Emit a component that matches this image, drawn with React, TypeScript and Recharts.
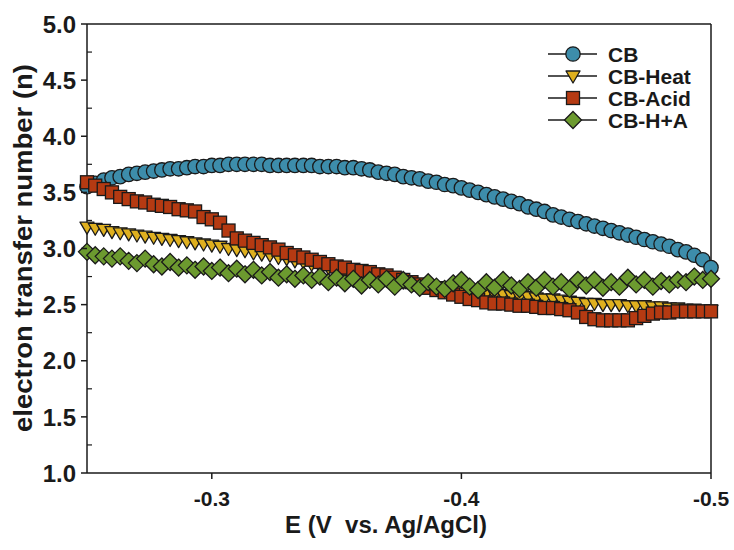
import React from 'react';
import { LineChart, Line, XAxis, YAxis, Legend, ReferenceLine, Label } from 'recharts';

// Potential E (V vs. Ag/AgCl)
const E = [
  -0.25, -0.2533, -0.2567, -0.26, -0.2633, -0.2667, -0.27, -0.2733, -0.2767, -0.28,
  -0.2833, -0.2867, -0.29, -0.2933, -0.2967, -0.3, -0.3033, -0.3067, -0.31, -0.3133,
  -0.3167, -0.32, -0.3233, -0.3267, -0.33, -0.3333, -0.3367, -0.34, -0.3433, -0.3467,
  -0.35, -0.3533, -0.3567, -0.36, -0.3633, -0.3667, -0.37, -0.3733, -0.3767, -0.38,
  -0.3833, -0.3867, -0.39, -0.3933, -0.3967, -0.4, -0.4033, -0.4067, -0.41, -0.4133,
  -0.4167, -0.42, -0.4233, -0.4267, -0.43, -0.4333, -0.4367, -0.44, -0.4433, -0.4467,
  -0.45, -0.4533, -0.4567, -0.46, -0.4633, -0.4667, -0.47, -0.4733, -0.4767, -0.48,
  -0.4833, -0.4867, -0.49, -0.4933, -0.4967, -0.5,
];

const CB = [
  3.55, 3.58, 3.61, 3.63, 3.64, 3.66, 3.67, 3.68, 3.69, 3.70,
  3.71, 3.71, 3.72, 3.73, 3.73, 3.74, 3.74, 3.75, 3.75, 3.75,
  3.75, 3.75, 3.74, 3.74, 3.74, 3.74, 3.74, 3.74, 3.73, 3.73,
  3.73, 3.72, 3.72, 3.71, 3.70, 3.68, 3.67, 3.66, 3.64, 3.63,
  3.62, 3.60, 3.59, 3.57, 3.56, 3.54, 3.52, 3.50, 3.48, 3.46,
  3.44, 3.42, 3.40, 3.37, 3.35, 3.33, 3.30, 3.28, 3.26, 3.24,
  3.22, 3.20, 3.18, 3.16, 3.14, 3.12, 3.10, 3.08, 3.06, 3.04,
  3.02, 2.99, 2.97, 2.94, 2.90, 2.83,
];

const CB_HEAT = [
  3.19, 3.18, 3.17, 3.15, 3.14, 3.13, 3.12, 3.11, 3.10, 3.09,
  3.08, 3.07, 3.06, 3.05, 3.04, 3.03, 3.02, 3.00, 2.99, 2.98,
  2.96, 2.95, 2.94, 2.92, 2.91, 2.89, 2.88, 2.86, 2.84, 2.83,
  2.81, 2.80, 2.78, 2.77, 2.76, 2.74, 2.73, 2.72, 2.70, 2.69,
  2.68, 2.67, 2.66, 2.65, 2.64, 2.63, 2.62, 2.61, 2.60, 2.59,
  2.59, 2.58, 2.57, 2.57, 2.56, 2.55, 2.55, 2.54, 2.53, 2.52,
  2.51, 2.51, 2.50, 2.50, 2.50, 2.49, 2.49, 2.49, 2.48, 2.48,
  2.47, 2.47, 2.46, 2.46, 2.45, 2.45,
];

const CB_ACID = [
  3.59, 3.56, 3.53, 3.50, 3.46, 3.44, 3.42, 3.41, 3.39, 3.38,
  3.37, 3.35, 3.34, 3.33, 3.28, 3.26, 3.23, 3.16, 3.09, 3.07,
  3.05, 3.03, 3.01, 2.99, 2.96, 2.94, 2.92, 2.90, 2.88, 2.86,
  2.84, 2.83, 2.81, 2.80, 2.79, 2.77, 2.76, 2.74, 2.72, 2.70,
  2.68, 2.65, 2.63, 2.61, 2.59, 2.57, 2.55, 2.54, 2.52, 2.51,
  2.51, 2.50, 2.49, 2.49, 2.48, 2.47, 2.47, 2.46, 2.45, 2.43,
  2.39, 2.37, 2.36, 2.36, 2.36, 2.36, 2.38, 2.40, 2.42, 2.43,
  2.43, 2.44, 2.44, 2.44, 2.44, 2.44,
];

const CB_HA = [
  2.97, 2.94, 2.93, 2.91, 2.93, 2.89, 2.87, 2.91, 2.86, 2.84,
  2.88, 2.83, 2.85, 2.81, 2.84, 2.80, 2.83, 2.78, 2.82, 2.77,
  2.81, 2.76, 2.79, 2.74, 2.77, 2.73, 2.76, 2.72, 2.75, 2.70,
  2.74, 2.69, 2.73, 2.67, 2.72, 2.68, 2.73, 2.66, 2.72, 2.68,
  2.65, 2.70, 2.66, 2.64, 2.69, 2.72, 2.66, 2.63, 2.70, 2.65,
  2.72, 2.67, 2.64, 2.70, 2.65, 2.72, 2.66, 2.70, 2.64, 2.72,
  2.67, 2.72, 2.65, 2.70, 2.66, 2.74, 2.68, 2.72, 2.66, 2.71,
  2.68, 2.72, 2.70, 2.75, 2.72, 2.73,
];

const SERIES_NAMES = ['CB', 'CB-Heat', 'CB-Acid', 'CB-H+A'];
const X_TICKS = [-0.3, -0.4, -0.5];
const Y_TICKS = [1, 1.25, 1.5, 1.75, 2, 2.25, 2.5, 2.75, 3, 3.25, 3.5, 3.75, 4, 4.25, 4.5, 4.75, 5];

const FONT = '"Liberation Sans", Arial, Helvetica, sans-serif';
const INK = '#1a1a1a';
const COLORS = ['#3d8dab', '#dfb01f', '#b53a12', '#6c9a2f'];
const KEYS = ['cb', 'heat', 'acid', 'ha'];

const data = E.map((e, i) => ({
  E: e,
  cb: CB[i],
  heat: CB_HEAT[i],
  acid: CB_ACID[i],
  ha: CB_HA[i],
}));

function Marker({ kind, cx, cy, fill }: { kind: number; cx: number; cy: number; fill: string }) {
  const sw = 1.3;
  if (kind === 0) return <circle cx={cx} cy={cy} r={7.2} fill={fill} stroke={INK} strokeWidth={sw} />;
  if (kind === 1)
    return (
      <polygon
        points={`${cx - 7},${cy - 5} ${cx + 7},${cy - 5} ${cx},${cy + 7}`}
        fill={fill}
        stroke={INK}
        strokeWidth={sw}
        strokeLinejoin="round"
      />
    );
  if (kind === 2)
    return <rect x={cx - 6.5} y={cy - 6.5} width={13} height={13} fill={fill} stroke={INK} strokeWidth={sw} />;
  return (
    <polygon
      points={`${cx},${cy - 8.5} ${cx + 8.5},${cy} ${cx},${cy + 8.5} ${cx - 8.5},${cy}`}
      fill={fill}
      stroke={INK}
      strokeWidth={sw}
    />
  );
}

const makeDot = (kind: number) => (props: any) => {
  const { cx, cy, index } = props;
  if (cx == null || cy == null) return <g key={`d${kind}-${index}`} />;
  return (
    <g key={`d${kind}-${index}`}>
      <Marker kind={kind} cx={cx} cy={cy} fill={COLORS[kind]} />
    </g>
  );
};

const Y_TICK_SIZE = 6;
const Y_TICK_MARGIN = 4;

const YTick = (props: any) => {
  const { x, y, payload } = props;
  const axisX = x + Y_TICK_SIZE + Y_TICK_MARGIN;
  const v = payload.value as number;
  const major = Math.abs(v * 2 - Math.round(v * 2)) < 1e-6;
  if (major) {
    return (
      <g>
        <line x1={axisX - 6} x2={axisX} y1={y} y2={y} stroke={INK} strokeWidth={1.5} />
        <text
          x={axisX - 11}
          y={y}
          dy="0.36em"
          textAnchor="end"
          fontFamily={FONT}
          fontWeight="bold"
          fontSize={24}
          fill={INK}
        >
          {v.toFixed(1)}
        </text>
      </g>
    );
  }
  return <line x1={axisX} x2={axisX + 5} y1={y} y2={y} stroke={INK} strokeWidth={1.2} />;
};

const LegendContent = () => (
  <svg width={190} height={100}>
    {SERIES_NAMES.map((name, i) => {
      const cy = 12 + i * 22;
      return (
        <g key={name}>
          <line x1={8} x2={57} y1={cy} y2={cy} stroke={INK} strokeWidth={1.3} />
          <Marker kind={i} cx={33} cy={cy} fill={COLORS[i]} />
          <text
            x={68}
            y={cy}
            dy="0.36em"
            fontFamily={FONT}
            fontWeight="bold"
            fontSize={21}
            fill={INK}
          >
            {name}
          </text>
        </g>
      );
    })}
  </svg>
);

export default function App() {
  return (
    <div style={{ position: 'absolute', left: 0, top: 0, width: 734, height: 550, background: '#fff' }}>
      <LineChart
        width={734}
        height={550}
        data={data}
        margin={{ top: 24, right: 23, bottom: 17, left: 27 }}
      >
        <XAxis
          dataKey="E"
          type="number"
          domain={[-0.5, -0.25]}
          reversed
          ticks={X_TICKS}
          tickFormatter={(v: number) => v.toFixed(1)}
          height={60}
          tickSize={6}
          tickMargin={12}
          stroke={INK}
          axisLine={{ stroke: INK, strokeWidth: 1.5 }}
          tickLine={{ stroke: INK, strokeWidth: 1.5 }}
          tick={{ fontFamily: FONT, fontWeight: 'bold', fontSize: 21, fill: INK }}
        >
          <Label
            content={() => (
              <text
                x={386}
                y={524}
                dy="0.36em"
                textAnchor="middle"
                fontFamily={FONT}
                fontWeight="bold"
                fontSize={24}
                fill={INK}
                style={{ whiteSpace: 'pre' }}
              >
                {'E (V  vs. Ag/AgCl)'}
              </text>
            )}
          />
        </XAxis>
        <YAxis
          type="number"
          domain={[1, 5]}
          ticks={Y_TICKS}
          interval={0}
          width={60}
          tickSize={Y_TICK_SIZE}
          tickMargin={Y_TICK_MARGIN}
          tickLine={false}
          axisLine={{ stroke: INK, strokeWidth: 1.5 }}
          tick={<YTick />}
        >
          <Label
            content={() => {
              const cx = 23;
              const cy = 248;
              return (
                <text
                  x={cx}
                  y={cy}
                  dy="0.36em"
                  textAnchor="middle"
                  transform={`rotate(-90, ${cx}, ${cy})`}
                  fontFamily={FONT}
                  fontWeight="bold"
                  fontSize={25}
                  textLength={368}
                  lengthAdjust="spacingAndGlyphs"
                  fill={INK}
                >
                  electron transfer number (n)
                </text>
              );
            }}
          />
        </YAxis>
        <ReferenceLine y={5} stroke={INK} strokeWidth={1.5} />
        <ReferenceLine x={-0.5} stroke={INK} strokeWidth={1.5} />
        <Legend
          layout="vertical"
          align="center"
          verticalAlign="middle"
          content={<LegendContent />}
          wrapperStyle={{ left: 540, top: 42, width: 190, height: 100 }}
        />
        {KEYS.map((k, i) => (
          <Line
            key={k}
            dataKey={k}
            name={SERIES_NAMES[i]}
            type="linear"
            stroke={INK}
            strokeWidth={1}
            dot={makeDot(i)}
            activeDot={false}
            isAnimationActive={false}
          />
        ))}
      </LineChart>
    </div>
  );
}
